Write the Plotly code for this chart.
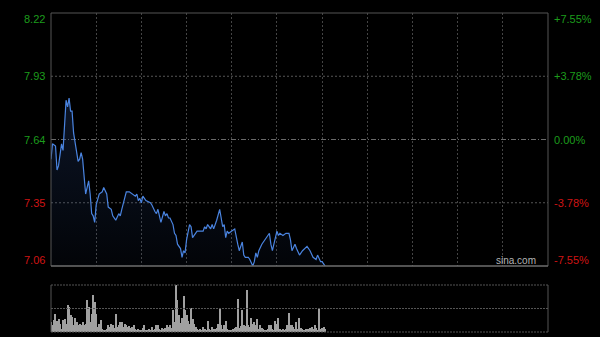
import plotly.graph_objects as go

# ---- data ----
prev_close = 7.64
price_ticks = [8.22, 7.93, 7.64, 7.35, 7.06]
price_labels = ["8.22", "7.93", "7.64", "7.35", "7.06"]
pct_labels = ["+7.55%", "+3.78%", "0.00%", "-3.78%", "-7.55%"]

minutes = [0, 1, 3, 4, 5, 7, 8, 10, 11, 12,
           13, 14, 15, 17, 18, 19, 20, 21, 22, 23,
           25, 26, 27, 28, 29, 30, 32, 34, 35, 37,
           38, 40, 41, 43, 45, 46, 47, 48, 50, 52,
           54, 56, 57, 58, 59, 60, 61, 63, 66, 67,
           69, 70, 71, 72, 73, 75, 76, 77, 78, 79,
           81, 82, 83, 84, 86, 87, 88, 89, 90, 92,
           93, 94, 96, 97, 99, 101, 102, 103, 104, 106,
           107, 108, 110, 112, 113, 114, 115, 116, 117, 118,
           120, 122, 124, 125, 127, 128, 129, 131, 132, 134,
           135, 136, 137, 138, 140, 142, 143, 145, 146, 147,
           148, 149, 150, 151, 152, 154, 156, 158, 159, 160,
           162, 163, 165, 167, 170, 172, 174, 176, 177, 179,
           180, 181, 182]
prices = [7.55, 7.62, 7.61, 7.50, 7.52, 7.62, 7.59, 7.82, 7.79, 7.83,
          7.77, 7.77, 7.67, 7.59, 7.54, 7.55, 7.58, 7.55, 7.47, 7.39,
          7.45, 7.39, 7.30, 7.29, 7.26, 7.34, 7.39, 7.40, 7.42, 7.39,
          7.33, 7.32, 7.29, 7.27, 7.30, 7.29, 7.32, 7.35, 7.40, 7.40,
          7.39, 7.38, 7.39, 7.36, 7.37, 7.35, 7.38, 7.36, 7.35, 7.34,
          7.31, 7.30, 7.32, 7.29, 7.26, 7.31, 7.29, 7.30, 7.28, 7.28,
          7.25, 7.21, 7.20, 7.16, 7.14, 7.10, 7.13, 7.12, 7.18, 7.25,
          7.24, 7.19, 7.21, 7.22, 7.22, 7.22, 7.24, 7.23, 7.25, 7.23,
          7.25, 7.23, 7.27, 7.32, 7.28, 7.24, 7.25, 7.19, 7.22, 7.21,
          7.22, 7.23, 7.16, 7.13, 7.17, 7.11, 7.10, 7.10, 7.09, 7.06,
          7.08, 7.12, 7.10, 7.13, 7.16, 7.18, 7.19, 7.21, 7.16, 7.13,
          7.16, 7.20, 7.22, 7.20, 7.21, 7.20, 7.21, 7.21, 7.18, 7.13,
          7.16, 7.14, 7.11, 7.13, 7.15, 7.13, 7.10, 7.09, 7.11, 7.08,
          7.08, 7.07, 7.06]

volume = [10, 6.7, 12, 18, 10.7, 13, 8, 3, 11.7, 13,
          8, 26.7, 25, 16.7, 15, 6.7, 14, 10, 7, 8,
          6.7, 10, 6.7, 8, 31.7, 25, 10, 18, 36.7, 30,
          18, 5, 8, 11.7, 3, 1.7, 1.7, 3, 6.7, 5,
          8, 6.7, 4, 18, 5, 6.7, 10, 10, 5, 8,
          6.7, 5, 6, 4, 5, 7.3, 3.3, 1.7, 3.3, 2,
          1.7, 4, 6.7, 2, 1.7, 3.3, 1.7, 5, 1.7, 3,
          6.7, 7.3, 3.3, 1.7, 4, 3.3, 4, 6.7, 5, 6.7,
          4, 21.7, 10, 46.7, 32, 16.7, 9, 14, 36, 22,
          17, 10.7, 8, 24, 12.7, 8, 5, 3.3, 1.7, 3.3,
          1.7, 5, 3.3, 1.7, 10.7, 3.3, 1.7, 5, 3.3, 3,
          4, 8, 23.3, 6.7, 3.3, 7.3, 10.7, 2.7, 1.7, 2,
          1.7, 3.3, 4, 5, 32.7, 4, 6, 21.7, 7.3, 6,
          41.7, 6.7, 5, 14, 8, 10, 6.7, 12.7, 3.3, 7.3,
          4, 3.3, 1.7, 1.7, 3.3, 6.7, 6.7, 3.3, 1.7, 10.7,
          8, 14, 3.3, 1.7, 3.3, 1.7, 3.3, 6.7, 19, 6.7,
          7.3, 5, 3.3, 10, 3.3, 14, 4, 3.3, 1.7, 2.7,
          2.7, 3.3, 4, 5, 3.3, 6.7, 4, 1.7, 23.3, 3.3,
          4, 5, 3.3]
vol_minutes = list(range(len(volume)))

session_minutes = 330
grid_step = 30

# ---- figure ----
W, H = 600, 337
ml, mr, mt, mb = 51, 52, 13, 5
ph = H - mt - mb
main_bottom = (332 - 266) / ph
vol_top = (332 - 285) / ph

GREEN = "#1c9c1c"
RED = "#d01414"
FONT = "Liberation Sans, Arial, sans-serif"

fig = go.Figure()

fig.add_trace(go.Scatter(
    x=minutes, y=prices, mode="lines",
    line=dict(color="#4a84e0", width=1.2),
    fill="tozeroy",
    fillgradient=dict(type="vertical",
                      colorscale=[[0, "rgba(40,70,130,0.06)"], [1, "rgba(40,70,130,0.30)"]],
                      start=price_ticks[-1], stop=max(prices)),
    xaxis="x", yaxis="y", hoverinfo="skip", showlegend=False))

fig.add_trace(go.Bar(
    x=vol_minutes, y=volume, width=0.7,
    marker=dict(color="#a0a0a0", line=dict(width=0)),
    xaxis="x2", yaxis="y2", hoverinfo="skip", showlegend=False))

lo, hi = price_ticks[-1], price_ticks[0]

fig.update_layout(
    width=W, height=H,
    margin=dict(l=ml, r=mr, t=mt, b=mb, pad=0),
    paper_bgcolor="#000000", plot_bgcolor="#000000",
    bargap=0,
    xaxis=dict(domain=[0, 1], range=[0, session_minutes], anchor="y",
               showgrid=True, gridcolor="#444444", griddash="2px,2px", gridwidth=1,
               tick0=0, dtick=grid_step, showticklabels=False, ticks="",
               zeroline=False, showline=False),
    yaxis=dict(domain=[main_bottom, 1], range=[lo, hi], anchor="x",
               showgrid=False, showticklabels=False, zeroline=False, showline=False),
    xaxis2=dict(domain=[0, 1], range=[0, session_minutes], anchor="y2",
                showgrid=False, showticklabels=False, ticks="",
                zeroline=False, showline=False),
    yaxis2=dict(domain=[0, vol_top], range=[0, max(volume)], anchor="x2",
                showgrid=False, showticklabels=False, zeroline=False, showline=False),
)

shapes = []
# horizontal reference lines in the price panel
for v in price_ticks[1:-1]:
    dash = "5px,2px,1px,2px" if v == prev_close else "2px,2px"
    col = "#6a6a6a" if v == prev_close else "#555555"
    shapes.append(dict(type="line", xref="x domain", yref="y", x0=0, x1=1, y0=v, y1=v,
                       line=dict(color=col, width=1, dash=dash), layer="below"))
# price panel border
shapes.append(dict(type="rect", xref="paper", yref="paper", x0=0, x1=1, y0=main_bottom, y1=1,
                   line=dict(color="#555555", width=1), layer="above"))
shapes.append(dict(type="line", xref="paper", yref="paper", x0=0, x1=1, y0=main_bottom, y1=main_bottom,
                   line=dict(color="#7a7a7a", width=1), layer="above"))
# volume panel
for yy in [0, 0.5, 1]:
    shapes.append(dict(type="line", xref="paper", yref="y2 domain", x0=0, x1=1, y0=yy, y1=yy,
                       line=dict(color="#555555", width=1, dash="2px,1px"), layer="above"))
for xx in [0, 1]:
    shapes.append(dict(type="line", xref="paper", yref="y2 domain", x0=xx, x1=xx, y0=0, y1=1,
                       line=dict(color="#555555", width=1), layer="above"))
fig.update_layout(shapes=shapes)

ann = []
n = len(price_ticks)
for i, (v, lab, pl) in enumerate(zip(price_ticks, price_labels, pct_labels)):
    col = GREEN if v >= prev_close else RED
    ya = "top" if i == 0 else ("bottom" if i == n - 1 else "middle")
    ys = 2 if i == 0 else (-2 if i == n - 1 else 0)
    ann.append(dict(x=0, xref="paper", y=v, yref="y", text=lab, showarrow=False,
                    xanchor="right", yanchor=ya, xshift=-4, yshift=ys,
                    font=dict(family=FONT, size=11, color=col)))
    ann.append(dict(x=1, xref="paper", y=v, yref="y", text=pl, showarrow=False,
                    xanchor="left", yanchor=ya, xshift=4, yshift=ys,
                    font=dict(family=FONT, size=11, color=col)))
ann.append(dict(x=(538 - ml) / (W - ml - mr), xref="paper", y=lo, yref="y", text="sina.com",
                showarrow=False, xanchor="right", yanchor="bottom", yshift=-2,
                font=dict(family=FONT, size=10, color="#b4b4b4")))
fig.update_layout(annotations=ann)

fig.write_html("out.html")
